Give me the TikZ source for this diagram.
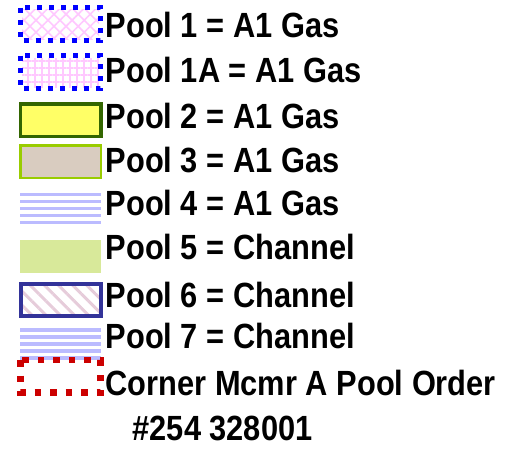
\documentclass[tikz,border=0pt]{standalone}
\usepackage{fontspec}
\setmainfont{Liberation Sans}[BoldFont=* Bold, FakeStretch=0.88]
\usetikzlibrary{patterns.meta}
\definecolor{dotblue}{HTML}{0000FF}
\definecolor{hatchpink}{HTML}{FFC8FF}
\definecolor{yel}{HTML}{FFFF66}
\definecolor{dkgreen}{HTML}{336600}
\definecolor{beige}{HTML}{D9CCC0}
\definecolor{ltgreen}{HTML}{99CC00}
\definecolor{stripeblue}{HTML}{BBBBFF}
\definecolor{palegreen}{HTML}{D8E99A}
\definecolor{navy}{HTML}{333399}
\definecolor{diagpink}{HTML}{E6CCDA}
\definecolor{dotred}{HTML}{CC0000}
\tikzset{
  lbl/.style={anchor=base west, inner sep=0pt, font=\fontsize{35}{40}\selectfont\bfseries, text=black},
  bluedots/.style={draw=dotblue, line width=5pt, dash pattern=on 5pt off 7pt},
  reddots/.style={draw=dotred, line width=6.5pt, dash pattern=on 6.5pt off 9pt},
  stripe/.style={draw=stripeblue, line width=3.2pt}
}
\begin{document}
\begin{tikzpicture}[x=1pt,y=-1pt]
\useasboundingbox (0,0) rectangle (509,453);
% Pool 1 : crosshatch with blue dotted border
\fill[pattern={Hatch[angle=45,distance=8.5pt,line width=1.6pt]}, pattern color=hatchpink] (22,9) rectangle (99,39);
\draw[bluedots] (20.5,7.5) rectangle (100,40.5);
% Pool 1A : grid with blue dotted border
\fill[pattern={Hatch[angle=0,distance=7pt,line width=1.8pt]}, pattern color=hatchpink] (22,58) rectangle (99,87);
\draw[bluedots] (20.5,55.5) rectangle (100.5,88);
% Pool 2
\draw[fill=yel, draw=dkgreen, line width=3.3pt] (20.7,104) rectangle (101,136.6);
% Pool 3
\draw[fill=beige, draw=ltgreen, line width=2.7pt] (20.7,145.7) rectangle (101,178);
% Pool 4 : horizontal stripes
\foreach \y in {194.5,201.5,208.5,215.5,222.5} \draw[stripe] (20,\y) -- (101,\y);
% Pool 5
\fill[palegreen] (20,240) rectangle (101,272.7);
% Pool 6 : diagonal lines with navy border
\fill[pattern={Lines[angle=-45,distance=10pt,line width=3pt]}, pattern color=diagpink] (21,284.3) rectangle (100.7,316.3);
\draw[draw=navy, line width=4pt] (21,284.3) rectangle (100.7,316.3);
% Pool 7 : horizontal stripes
\foreach \y in {330,337,344,351,358} \draw[stripe] (20,\y) -- (101,\y);
% Corner : red dotted border
\draw[reddots] (20.5,360) rectangle (100.5,392.5);
% labels
\node[lbl] (l1)  at (105.5,37)  {Pool 1 = A1 Gas};
\node[lbl] (l1a) at (105.5,82)  {Pool 1A = A1 Gas};
\node[lbl] (l2)  at (105.5,128) {Pool 2 = A1 Gas};
\node[lbl] (l3)  at (105.5,172) {Pool 3 = A1 Gas};
\node[lbl] (l4)  at (105.5,215) {Pool 4 = A1 Gas};
\node[lbl] (l5)  at (105.5,259) {Pool 5 = Channel};
\node[lbl] (l6)  at (105.5,307) {Pool 6 = Channel};
\node[lbl] (l7)  at (105.5,348) {Pool 7 = Channel};
\node[lbl] (l8)  at (105.5,395) {Corner Mcmr A Pool Order};
\node[lbl] (l9)  at (132.5,440) {\#254 328001};
\end{tikzpicture}
\end{document}
